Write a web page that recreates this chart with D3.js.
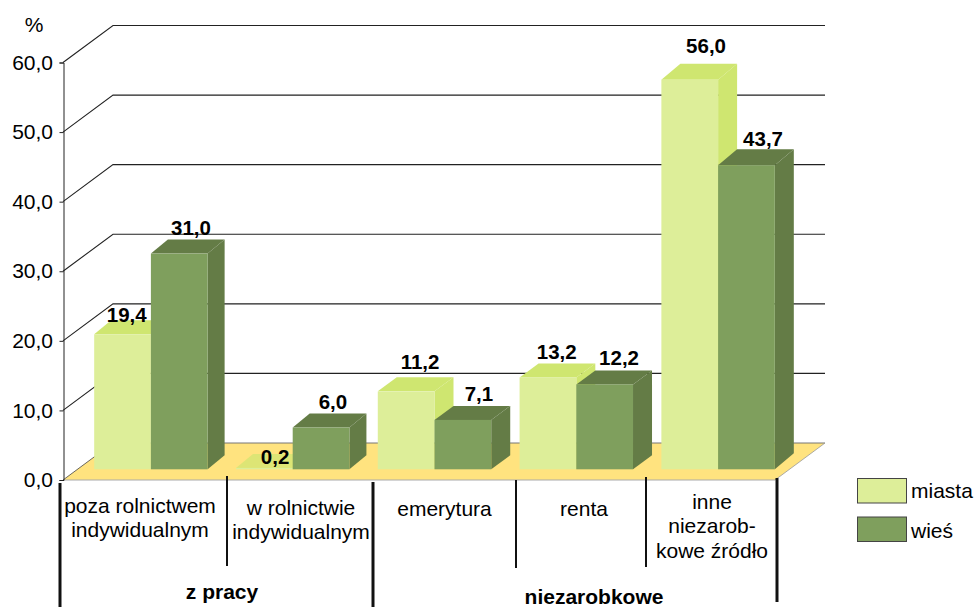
<!DOCTYPE html>
<html><head><meta charset="utf-8">
<script src="https://cdn.jsdelivr.net/npm/d3@7"></script>
<style>html,body{margin:0;padding:0;background:#fff}svg{display:block}text{font-family:"Liberation Sans",Arial,sans-serif;fill:#000}</style>
</head><body><svg id="c" width="975" height="609"></svg>
<script>
const categories = ["poza rolnictwem indywidualnym","w rolnictwie indywidualnym","emerytura","renta","inne niezarobkowe źródło"];
const categoryLines = [["poza rolnictwem","indywidualnym"],["w rolnictwie","indywidualnym"],["emerytura"],["renta"],["inne","niezarob-","kowe źródło"]];
const seriesNames = ["miasta","wieś"];
const miasta = [19.4,0.2,11.2,13.2,56.0];
const wies = [31.0,6.0,7.1,12.2,43.7];
const yTicks = [0,10,20,30,40,50,60];
const groupLabels = ["z pracy","niezarobkowe"];
const frontColors = ["#DDEE99","#7F9F5D"];
const topColors = ["#CFE670","#647C46"];
const sideColors = ["#CFE670","#647C46"];

const svg = d3.select("#c");
const fmt = v => v.toFixed(1).replace(".",",");
const y = d3.scaleLinear().domain([0,60]).range([480,62.5]);
const x0 = d3.scaleBand().domain(categories).range([63,772]).paddingInner(0.2).paddingOuter(0.1);
const x1 = d3.scaleBand().domain(seriesNames).range([0,x0.bandwidth()]);
const W = {dx:50,dy:-37}, B = {dx:17,dy:-10.7};
const depthX = [17,17,19,19,19], depthY = [14,14,14,14,16];
const poly = pts => pts.map(p=>p.join(",")).join(" ");

// back-wall grid
const gridG = svg.append("g");
yTicks.forEach(t=>{
  if(t>0) gridG.append("polyline").attr("points",poly([[63,y(t)],[63+W.dx,y(t)+W.dy],[775+W.dx,y(t)+W.dy]]))
    .attr("fill","none").attr("stroke","#222").attr("stroke-width",1.1);
});
// floor
svg.append("polygon").attr("points",poly([[63,y(0)],[63+W.dx,y(0)+W.dy],[775+W.dx,y(0)+W.dy],[775,y(0)]]))
  .attr("fill","#FFE37F");
svg.append("line").attr("x1",63+W.dx).attr("x2",775+W.dx).attr("y1",y(0)+W.dy).attr("y2",y(0)+W.dy).attr("stroke","#777").attr("stroke-width",1);
svg.append("line").attr("x1",63).attr("x2",775).attr("y1",y(0)).attr("y2",y(0)).attr("stroke","#aaa").attr("stroke-width",1);
svg.append("line").attr("x1",63).attr("x2",63+W.dx).attr("y1",y(0)).attr("y2",y(0)+W.dy).attr("stroke","#444").attr("stroke-width",.8);
svg.append("line").attr("x1",775).attr("x2",775+W.dx).attr("y1",y(0)).attr("y2",y(0)+W.dy).attr("stroke","#999").attr("stroke-width",.8);

// axis
const yAxis = d3.axisLeft(y).tickValues(yTicks).tickFormat(fmt).tickSize(4);
const ax = svg.append("g").attr("transform","translate(63.5,0)").call(yAxis);
ax.select(".domain").attr("stroke","#222");
ax.selectAll(".tick line").attr("stroke","#222");
ax.selectAll(".tick text").attr("font-size",21).attr("dy","0.32em").attr("x",-10.5);
svg.append("text").attr("x",34).attr("y",32).attr("text-anchor","middle").attr("font-size",21).text("%");

// bars
categories.forEach((c,i)=>{
  [miasta,wies].forEach((vals,s)=>{
    const v = vals[i], name = seriesNames[s];
    const xl = x0(c)+x1(name)+B.dx, w = x1.bandwidth(), base = y(0)+B.dy, top = y(v)+B.dy;
    const dx = depthX[i], dy = depthY[i];
    const g = svg.append("g");
    g.append("polygon").attr("points",poly([[xl+w,top],[xl+w+dx,top-dy],[xl+w+dx,base-dy],[xl+w,base]])).attr("fill",sideColors[s]);
    g.append("polygon").attr("points",poly([[xl,top],[xl+w,top],[xl+w+dx,top-dy],[xl+dx,top-dy]])).attr("fill",topColors[s]).attr("fill-opacity",v<1?0.7:1);
    g.append("rect").attr("x",xl).attr("y",top).attr("width",w).attr("height",base-top).attr("fill",frontColors[s]);
  });
});

// value labels (nudges relative to each bar's front top centre)
const labelNudge = [
  [[4.2,-12.6],[11.7,-18.9]],
  [[10.7,-3.9],[11.9,-18.6]],
  [[13.9,-22.4],[16.1,-19.2]],
  [[8.8,-18.5],[14.4,-19.4]],
  [[16.3,-26.9],[16.6,-19.2]]
];
categories.forEach((c,i)=>{
  [miasta,wies].forEach((vals,s)=>{
    const v = vals[i], name = seriesNames[s];
    svg.append("text")
      .attr("x",x0(c)+x1(name)+B.dx+x1.bandwidth()/2+labelNudge[i][s][0])
      .attr("y",y(v)+B.dy+labelNudge[i][s][1])
      .attr("text-anchor","middle").attr("font-size",20.5).attr("font-weight","bold").text(fmt(v));
  });
});

// category labels
const catCx = [140,301,444.5,584,712];
const catY = [513,515,515.5,515.5,509];
categoryLines.forEach((lines,i)=>{
  const t = svg.append("text").attr("text-anchor","middle").attr("font-size",21);
  lines.forEach((l,j)=>t.append("tspan").attr("x",catCx[i]).attr("y",catY[i]+j*24.3).text(l));
});
// separators
const seps = [[60,483,607,3],[227,476,566,2],[373,482,607,3],[516,480,568,2],[646,477,567,2],[777,478,602,3]];
seps.forEach(s=>svg.append("line").attr("x1",s[0]).attr("x2",s[0]).attr("y1",s[1]).attr("y2",s[2]).attr("stroke","#111").attr("stroke-width",s[3]));
svg.append("text").attr("x",222).attr("y",599).attr("text-anchor","middle").attr("font-size",21).attr("font-weight","bold").text(groupLabels[0]);
svg.append("text").attr("x",594).attr("y",604).attr("text-anchor","middle").attr("font-size",21).attr("font-weight","bold").text(groupLabels[1]);

// legend
seriesNames.forEach((n,i)=>{
  svg.append("rect").attr("x",857.5).attr("y",478.5+i*38.5).attr("width",49).attr("height",24.5).attr("fill",frontColors[i]).attr("stroke","#444");
  svg.append("text").attr("x",911).attr("y",498+i*40).attr("font-size",21).text(n);
});
</script></body></html>
